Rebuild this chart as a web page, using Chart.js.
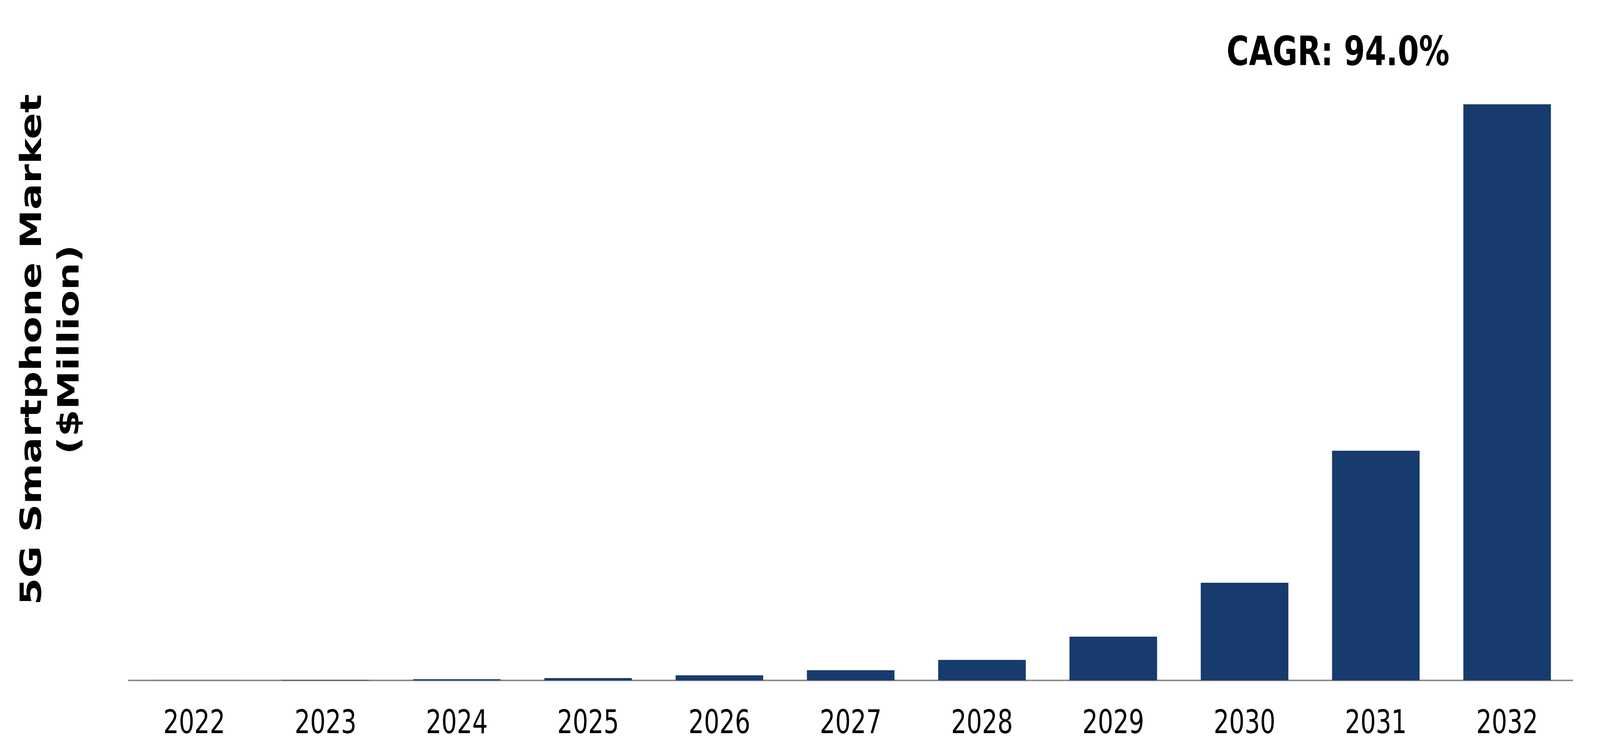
<!DOCTYPE html>
<html>
<head>
<meta charset="utf-8">
<script src="https://cdn.jsdelivr.net/npm/chart.js@4.4.1/dist/chart.umd.min.js"></script>
<style>
  html, body { margin: 0; padding: 0; background: #ffffff; overflow: hidden; }
  canvas { display: block; }
</style>
</head>
<body>
<!-- drawn at 5460x1933, then fitted to the window (the window can be narrower) -->
<canvas id="marketChart" width="5460" height="1933" style="width:100vw;height:100vh"></canvas>
<script>
// 5G smartphone market, $Million
const years = ['2022', '2023', '2024', '2025', '2026', '2027', '2028', '2029', '2030', '2031', '2032'];
const marketValues = [3, 10, 30, 60, 130, 260, 525, 1120, 2500, 5880, 14750];
const axisMax = 15420;
const cagrLabel = 'CAGR: 94.0%';
const yTitleLines = ['5G Smartphone Market', '($Million)'];

const barColor = '#173b6d';

// draws the rotated y title and the CAGR note
const annotations = {
    id: 'annotations',
    afterDraw(chart) {
        const ctx = chart.ctx;
        ctx.save();
        ctx.fillStyle = '#000000';
        ctx.textAlign = 'center';
        ctx.textBaseline = 'middle';

        ctx.font = 'bold 100px "DejaVu Sans"';
        const titleCenterY = 895;
        const lineX = [114, 242];
        yTitleLines.forEach((line, i) => {
            ctx.save();
            ctx.translate(lineX[i], titleCenterY);
            ctx.rotate(-Math.PI / 2);
            ctx.fillText(line, 0, 0);
            ctx.restore();
        });

        ctx.font = 'bold 104px "DejaVu Sans"';
        ctx.fillText(cagrLabel, 4566, 140);
        ctx.restore();
    },
};

const chartData = {
    labels: years,
    datasets: [
        {
            label: '5G Smartphone Market',
            data: marketValues,
            backgroundColor: barColor,
            borderWidth: 0,
            barPercentage: 1,
            categoryPercentage: 0.667,
        },
    ],
};

const chartOptions = {
    responsive: false,
    devicePixelRatio: 1,
    animation: false,
    layout: {
        padding: { left: 439, right: 93, top: 200, bottom: 30 },
    },
    scales: {
        x: {
            grid: { display: false, drawTicks: false },
            border: { display: true, color: '#8c8c8c', width: 4 },
            ticks: {
                color: '#000000',
                padding: 64,
                font: { family: '"DejaVu Sans"', size: 83 },
            },
            afterFit(scale) {
                scale.height = 161;
            },
        },
        y: {
            display: false,
            beginAtZero: true,
            min: 0,
            max: axisMax,
        },
    },
    plugins: {
        legend: { display: false },
        tooltip: { enabled: false },
    },
};

new Chart(document.getElementById('marketChart'), {
    type: 'bar',
    data: chartData,
    options: chartOptions,
    plugins: [annotations],
});
</script>
</body>
</html>
